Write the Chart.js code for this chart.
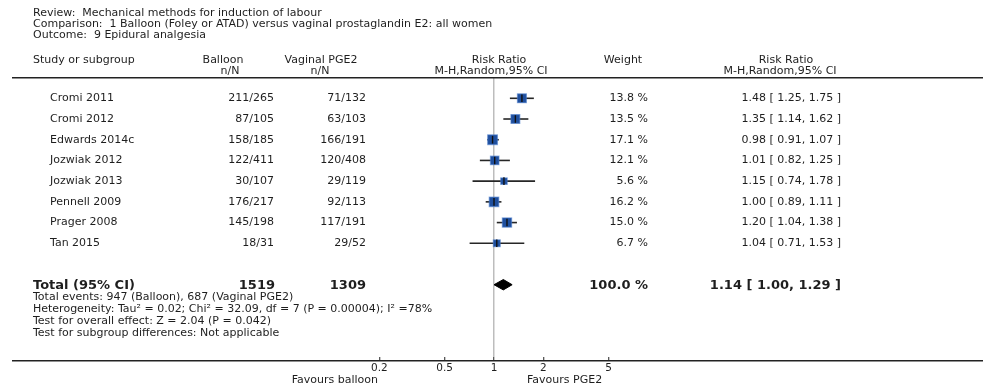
<!DOCTYPE html>
<html>
<head>
<meta charset="utf-8">
<script src="https://cdn.jsdelivr.net/npm/chart.js@4/dist/chart.umd.min.js"></script>
<style>
  html, body { margin: 0; padding: 0; background: #fff; overflow: hidden; }
  canvas { display: block; }
</style>
</head>
<body>
<canvas id="forest" width="983" height="387"></canvas>
<script>
// Study-level data
const studies = ['Cromi 2011', 'Cromi 2012', 'Edwards 2014c', 'Jozwiak 2012', 'Jozwiak 2013', 'Pennell 2009', 'Prager 2008', 'Tan 2015'];
const balloonEvents = [211, 87, 158, 122, 30, 176, 145, 18];
const balloonTotals = [265, 105, 185, 411, 107, 217, 198, 31];
const pgeEvents = [71, 63, 166, 120, 29, 92, 117, 29];
const pgeTotals = [132, 103, 191, 408, 119, 113, 191, 52];
const weights = [13.8, 13.5, 17.1, 12.1, 5.6, 16.2, 15.0, 6.7];
const riskRatios = [1.48, 1.35, 0.98, 1.01, 1.15, 1.00, 1.20, 1.04];
const ciLower = [1.25, 1.14, 0.91, 0.82, 0.74, 0.89, 1.04, 0.71];
const ciUpper = [1.75, 1.62, 1.07, 1.25, 1.78, 1.11, 1.38, 1.53];

// Pooled estimate
const totalBalloon = 1519;
const totalPge = 1309;
const totalWeight = 100.0;
const pooledRR = 1.14;
const pooledLower = 1.00;
const pooledUpper = 1.29;

// Axis
const axisTicks = [0.2, 0.5, 1, 2, 5];
const favoursLeft = 'Favours balloon';
const favoursRight = 'Favours PGE2';

// Text blocks
const titleLines = [
  'Review:  Mechanical methods for induction of labour',
  'Comparison:  1 Balloon (Foley or ATAD) versus vaginal prostaglandin E2: all women',
  'Outcome:  9 Epidural analgesia'
];
const footLines = [
  'Total events: 947 (Balloon), 687 (Vaginal PGE2)',
  'Heterogeneity: Tau\u00B2 = 0.02; Chi\u00B2 = 32.09, df = 7 (P = 0.00004); I\u00B2 =78%',
  'Test for overall effect: Z = 2.04 (P = 0.042)',
  'Test for subgroup differences: Not applicable'
];

const FONT = '"DejaVu Sans", Verdana, sans-serif';
const TEXT = '#1e1e1e';
const BOX = '#1f4f9e';
const totalRow = studies.length + 1;

// CI whiskers, one small line per study
const ciSets = studies.map((s, i) => ({
  type: 'scatter',
  showLine: true,
  data: [{ x: ciLower[i], y: i }, { x: ciUpper[i], y: i }],
  borderColor: '#262626',
  borderWidth: 1.6,
  pointRadius: 0,
  order: 3
}));

// Weight boxes: larger weight, larger square
const boxes = {
  type: 'scatter',
  data: riskRatios.map((r, i) => ({ x: r, y: i })),
  pointStyle: 'rect',
  pointRadius: ctx => 1.5 + 1.3 * Math.sqrt(weights[ctx.dataIndex]),
  backgroundColor: BOX,
  borderColor: 'rgba(70,120,200,0.55)',
  borderWidth: 1.2,
  order: 2
};

const centreMarks = {
  type: 'scatter',
  data: riskRatios.map((r, i) => ({ x: r, y: i })),
  pointStyle: 'line',
  rotation: 90,
  pointRadius: 3.8,
  borderColor: '#111',
  borderWidth: 1.4,
  order: 1
};

const diamondHalf = 0.25;
const diamond = {
  type: 'scatter',
  showLine: true,
  data: [
    { x: pooledLower, y: totalRow },
    { x: pooledRR, y: totalRow - diamondHalf },
    { x: pooledUpper, y: totalRow },
    { x: pooledRR, y: totalRow + diamondHalf },
    { x: pooledLower, y: totalRow }
  ],
  fill: 'shape',
  backgroundColor: '#000',
  borderColor: '#000',
  borderWidth: 1,
  pointRadius: 0,
  tension: 0,
  order: 1
};

const fmt2 = v => v.toFixed(2);

const tablePlugin = {
  id: 'forestTable',
  afterDraw(chart) {
    const ctx = chart.ctx;
    const ys = chart.scales.y;
    const area = chart.chartArea;
    const tickLen = chart.options.scales.x.grid.tickLength;
    ctx.save();

    // rules
    ctx.strokeStyle = '#222';
    ctx.lineWidth = 1.5;
    ctx.beginPath();
    ctx.moveTo(12, area.top - 0.3);
    ctx.lineTo(983, area.top - 0.3);
    const axisY = area.bottom + tickLen - 0.3;
    ctx.moveTo(12, axisY);
    ctx.lineTo(983, axisY);
    ctx.stroke();

    ctx.fillStyle = TEXT;
    ctx.textBaseline = 'middle';
    ctx.font = '11px ' + FONT;

    // title block
    ctx.textAlign = 'left';
    titleLines.forEach((t, i) => ctx.fillText(t, 33, 13 + i * 10.9));

    // column headings
    ctx.fillText('Study or subgroup', 33, 60);
    ctx.textAlign = 'center';
    ctx.fillText('Balloon', 223, 60);
    ctx.fillText('n/N', 230, 71);
    ctx.fillText('Vaginal PGE2', 321, 60);
    ctx.fillText('n/N', 320, 71);
    ctx.fillText('Risk Ratio', 499, 60);
    ctx.fillText('M-H,Random,95% CI', 491, 71);
    ctx.fillText('Weight', 623, 60);
    ctx.fillText('Risk Ratio', 786, 60);
    ctx.fillText('M-H,Random,95% CI', 780, 71);

    // study rows
    studies.forEach((s, i) => {
      const y = ys.getPixelForValue(i);
      ctx.textAlign = 'left';
      ctx.fillText(s, 50, y);
      ctx.textAlign = 'right';
      ctx.fillText(balloonEvents[i] + '/' + balloonTotals[i], 274, y);
      ctx.fillText(pgeEvents[i] + '/' + pgeTotals[i], 366, y);
      ctx.fillText(weights[i].toFixed(1) + ' %', 648, y);
      ctx.fillText(fmt2(riskRatios[i]) + ' [ ' + fmt2(ciLower[i]) + ', ' + fmt2(ciUpper[i]) + ' ]', 841, y);
    });

    // pooled row
    const ty = ys.getPixelForValue(totalRow) + 0.5;
    ctx.font = 'bold 13px ' + FONT;
    ctx.textAlign = 'left';
    ctx.fillText('Total (95% CI)', 33, ty);
    ctx.textAlign = 'right';
    ctx.fillText(String(totalBalloon), 275, ty);
    ctx.fillText(String(totalPge), 366, ty);
    ctx.fillText(totalWeight.toFixed(1) + ' %', 648, ty);
    ctx.fillText(fmt2(pooledRR) + ' [ ' + fmt2(pooledLower) + ', ' + fmt2(pooledUpper) + ' ]', 841, ty);

    // footnotes
    ctx.font = '11px ' + FONT;
    ctx.textAlign = 'left';
    footLines.forEach((t, i) => ctx.fillText(t, 33, 297.5 + i * 12));

    // favours labels
    ctx.textAlign = 'right';
    ctx.fillText(favoursLeft, 378, 380);
    ctx.textAlign = 'left';
    ctx.fillText(favoursRight, 527, 380);

    ctx.restore();
  }
};

new Chart(document.getElementById('forest'), {
  type: 'scatter',
  data: { datasets: [...ciSets, boxes, centreMarks, diamond] },
  options: {
    responsive: false,
    animation: false,
    events: [],
    devicePixelRatio: 1,
    layout: { padding: { left: 330, right: 325, top: 78, bottom: 0 } },
    plugins: { legend: { display: false }, tooltip: { enabled: false } },
    scales: {
      x: {
        type: 'logarithmic',
        min: 0.1,
        max: 10,
        afterBuildTicks: s => { s.ticks = axisTicks.map(v => ({ value: v })); },
        afterFit: s => { s.height = 30; },
        border: { display: false },
        grid: {
          drawOnChartArea: true,
          color: c => (c.tick && c.tick.value === 1 ? '#bdbdbd' : 'rgba(0,0,0,0)'),
          lineWidth: 1.5,
          tickColor: '#222',
          tickLength: 4,
          tickWidth: 1
        },
        ticks: {
          autoSkip: false,
          maxRotation: 0,
          padding: 1,
          color: TEXT,
          font: { family: FONT, size: 10.5 },
          callback: v => String(v)
        }
      },
      y: {
        type: 'linear',
        reverse: true,
        min: -0.98,
        max: 12.49,
        display: false
      }
    }
  },
  plugins: [tablePlugin]
});
</script>
</body>
</html>
